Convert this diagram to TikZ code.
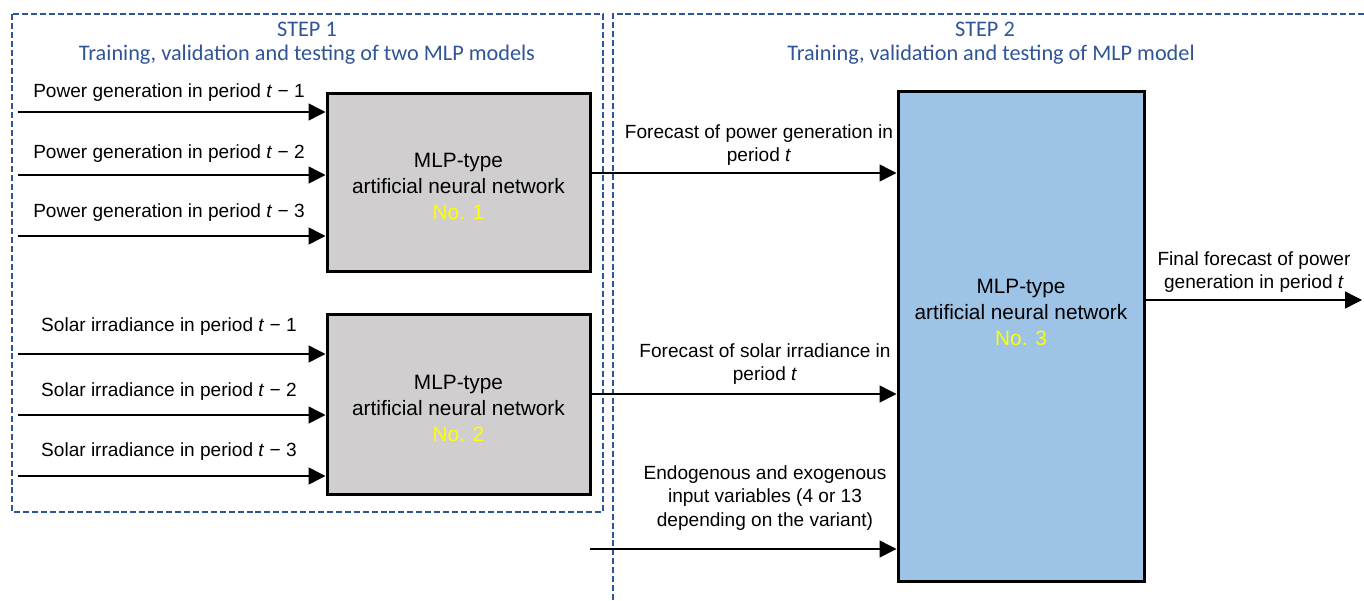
\documentclass[tikz,border=0pt]{standalone}
\usepackage{fontspec}
\setmainfont{Liberation Sans}
\newfontfamily\titlefont{Carlito}
\usetikzlibrary{arrows.meta}

\definecolor{stepblue}{HTML}{2F5597}
\definecolor{boxgray}{HTML}{D0CECE}
\definecolor{boxblue}{HTML}{9DC3E6}
\definecolor{numyellow}{HTML}{FFFF00}

\tikzset{
  x=0.75pt, y=-0.75pt,
  stepframe/.style={draw=stepblue, line width=1.5pt, dash pattern=on 4.5pt off 2.2pt},
  steptitle/.style={text=stepblue, font=\titlefont\fontsize{16.7}{20}\selectfont, inner sep=0pt, align=center},
  netbox/.style={draw=black, line width=2.25pt, minimum width=197.25pt, anchor=center},
  nettext/.style={font=\fontsize{15.6}{19.5}\selectfont, align=center, inner sep=0pt},
  sig/.style={font=\fontsize{14.3}{17.5}\selectfont, align=center, inner sep=0pt},
  flow/.style={draw=black, line width=1.1pt, -{Triangle[length=12.75pt, width=12.75pt]}},
}

\begin{document}
\begin{tikzpicture}
\useasboundingbox (0,0) rectangle (1364,600);

% step frames
\draw[stepframe] (12,14) rectangle (603,512);
\draw[stepframe] (1364,14) -- (613,14) -- (613,600);

\node[steptitle] (t1a) at (307,29) {STEP 1};
\node[steptitle] (t1b) at (307,55) {Training, validation and testing of two MLP models};
\node[steptitle] (t2a) at (985,29) {STEP 2};
\node[steptitle] (t2b) at (991,55) {Training, validation and testing of MLP model};

% networks
\node[netbox, fill=boxgray, minimum height=133.5pt] (n1) at (458.5,182) {};
\node[netbox, fill=boxgray, minimum height=135pt] (n2) at (458.5,404) {};
\node[netbox, fill=boxblue, minimum width=184.5pt, minimum height=367.5pt] (n3) at (1021,336) {};

\node[nettext] (n1t) at (458.5,186) {MLP-type\\artificial neural network\\\textcolor{numyellow}{No. 1}};
\node[nettext] (n2t) at (458.5,408) {MLP-type\\artificial neural network\\\textcolor{numyellow}{No. 2}};
\node[nettext] (n3t) at (1021,312) {MLP-type\\artificial neural network\\\textcolor{numyellow}{No. 3}};

% inputs of network 1
\coordinate (p1) at (18,112);
\coordinate (p2) at (18,175);
\coordinate (p3) at (18,236);
\draw[flow] (p1) -- (p1 -| n1.west);
\draw[flow] (p2) -- (p2 -| n1.west);
\draw[flow] (p3) -- (p3 -| n1.west);
\node[sig] (lp1) at (169,93)  {Power generation in period \textit{t} − 1};
\node[sig] (lp2) at (169,154) {Power generation in period \textit{t} − 2};
\node[sig] (lp3) at (169,213) {Power generation in period \textit{t} − 3};

% inputs of network 2
\coordinate (s1) at (18,354);
\coordinate (s2) at (18,415);
\coordinate (s3) at (18,476);
\draw[flow] (s1) -- (s1 -| n2.west);
\draw[flow] (s2) -- (s2 -| n2.west);
\draw[flow] (s3) -- (s3 -| n2.west);
\node[sig] (ls1) at (169,327) {Solar irradiance in period \textit{t} − 1};
\node[sig] (ls2) at (169,392) {Solar irradiance in period \textit{t} − 2};
\node[sig] (ls3) at (169,452) {Solar irradiance in period \textit{t} − 3};

% inputs of network 3
\coordinate (o1) at (590,173);
\coordinate (o2) at (590,394);
\coordinate (ex) at (590,549);
\draw[flow] (o1) -- (o1 -| n3.west);
\draw[flow] (o2) -- (o2 -| n3.west);
\draw[flow] (ex) -- (ex -| n3.west);
\node[sig] (lo1) at (759,145) {Forecast of power generation in\\period \textit{t}};
\node[sig] (lo2) at (765,364) {Forecast of solar irradiance in\\period \textit{t}};
\node[sig] (lex) at (765,498) {Endogenous and exogenous\\input variables (4 or 13\\depending on the variant)};

% final output
\coordinate (fo) at (1362,300);
\draw[flow] (fo -| n3.east) -- (fo);
\node[sig] (lfo) at (1254,272) {Final forecast of power\\generation in period \textit{t}};
\end{tikzpicture}
\end{document}
